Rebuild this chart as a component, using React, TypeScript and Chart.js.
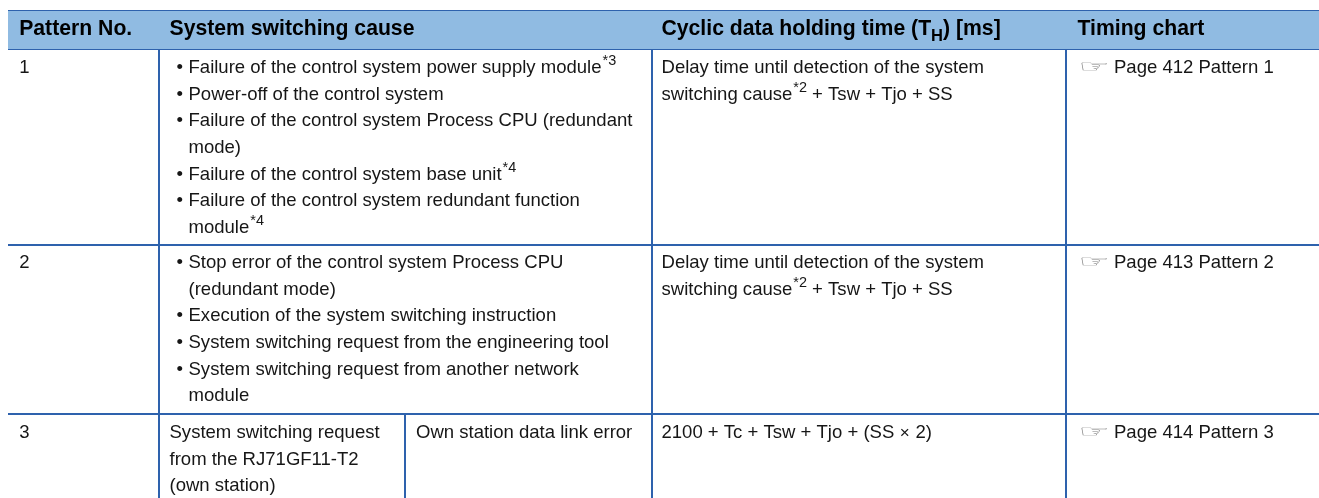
import React, { useEffect, useRef } from "react";
import { Chart, registerables } from "chart.js";

Chart.register(...registerables);

// ---- Table content ----
const headers = ["Pattern No.", "System switching cause", "Cyclic data holding time (T_{H}) [ms]", "Timing chart"];
const patternNumbers = ["1", "2", "3"];
const causesPattern1 = [
  "• Failure of the control system power supply module^{*3}",
  "• Power-off of the control system",
  "• Failure of the control system Process CPU (redundant",
  "mode)",
  "• Failure of the control system base unit^{*4}",
  "• Failure of the control system redundant function",
  "module^{*4}",
];
const causesPattern2 = [
  "• Stop error of the control system Process CPU",
  "(redundant mode)",
  "• Execution of the system switching instruction",
  "• System switching request from the engineering tool",
  "• System switching request from another network",
  "module",
];
const causesPattern3Left = ["System switching request", "from the RJ71GF11-T2", "(own station)"];
const causesPattern3Right = ["Own station data link error"];
const holdingTimePattern12 = ["Delay time until detection of the system", "switching cause^{*2} + Tsw + Tjo + SS"];
const holdingTimePattern3 = ["2100 + Tc + Tsw + Tjo + (SS ~{×} 2)"];
const timingLinks = ["Page 412 Pattern 1", "Page 413 Pattern 2", "Page 414 Pattern 3"];

// ---- Layout (in scale units, which equal page pixels) ----
const W = 1319;
const H = 498;
const LEFT = 8;
const COL = [159, 652, 1066];
const SUBCOL = 405;
const TOP = 11;
const HEAD_BOTTOM = 49;
const ROW_BOTTOMS = [245, 414];
const LINE_PITCH = 26.65;
const RULE = "#2e62ad";
const HEAD_FILL = "#90bbe2";
const TEXT = "#161616";
const FONT = '"Liberation Sans", Arial, sans-serif';
const SIZE = 18.55;
const HEAD_SIZE = 21.2;

type Seg = { t: string; kind: "n" | "sup" | "sub" | "small" };
function parse(s: string): Seg[] {
  const out: Seg[] = [];
  const re = /\^\{(.*?)\}|_\{(.*?)\}|~\{(.*?)\}/g;
  let last = 0;
  let m: RegExpExecArray | null;
  while ((m = re.exec(s))) {
    if (m.index > last) out.push({ t: s.slice(last, m.index), kind: "n" });
    if (m[1] !== undefined) out.push({ t: m[1], kind: "sup" });
    else if (m[2] !== undefined) out.push({ t: m[2], kind: "sub" });
    else out.push({ t: m[3], kind: "small" });
    last = m.index + m[0].length;
  }
  if (last < s.length) out.push({ t: s.slice(last), kind: "n" });
  return out;
}

function drawRuns(ctx: CanvasRenderingContext2D, s: string, px: number, py: number, size: number, bold: boolean) {
  let x = px;
  for (const seg of parse(s)) {
    const weight = bold ? "bold " : "";
    if (seg.kind === "small") {
      // Keeps the full-size advance, draws the glyph a little smaller and centred in it.
      ctx.font = `${weight}${size}px ${FONT}`;
      const adv = ctx.measureText(seg.t).width;
      ctx.font = `${weight}${size * 0.92}px ${FONT}`;
      const w = ctx.measureText(seg.t).width;
      ctx.fillText(seg.t, x + (adv - w) / 2, py - size * 0.01);
      x += adv;
      continue;
    }
    const sz = seg.kind === "n" ? size : size * 0.78;
    ctx.font = `${weight}${sz}px ${FONT}`;
    const dy = seg.kind === "sup" ? -size * 0.41 : seg.kind === "sub" ? size * 0.28 : 0;
    if (seg.kind === "sup") x += 1;
    ctx.fillText(seg.t, x, py + dy);
    x += ctx.measureText(seg.t).width;
  }
}

const tablePlugin = {
  id: "tableText",
  afterDatasetsDraw(chart: any) {
    const { ctx, scales } = chart;
    const X = (v: number) => scales.x.getPixelForValue(v);
    const Y = (v: number) => scales.y.getPixelForValue(v);
    ctx.save();
    ctx.fillStyle = TEXT;
    ctx.textBaseline = "alphabetic";
    ctx.textAlign = "left";

    const block = (lines: string[], x: number, y: number, bulletX?: number) => {
      lines.forEach((line, i) => {
        const py = Y(y + i * LINE_PITCH);
        if (bulletX !== undefined && line.startsWith("• ")) {
          ctx.font = `${SIZE}px ${FONT}`;
          ctx.fillText("•", X(bulletX), py);
          drawRuns(ctx, line.slice(2), X(x), py, SIZE, false);
        } else {
          drawRuns(ctx, line, X(x), py, SIZE, false);
        }
      });
    };

    const headX = [19.2, 169.5, 661.5, 1077.5];
    ctx.fillStyle = "#000000";
    headers.forEach((h, i) => drawRuns(ctx, h, X(headX[i]), Y(35.2), HEAD_SIZE, true));
    ctx.fillStyle = TEXT;

    const rowBase = [73, 268, 438];
    patternNumbers.forEach((n, i) => block([n], 19.2, rowBase[i]));
    block(causesPattern1, 188.5, rowBase[0], 176.5);
    block(causesPattern2, 188.5, rowBase[1], 176.5);
    block(causesPattern3Left, 169.5, rowBase[2]);
    block(causesPattern3Right, 416, rowBase[2]);
    block(holdingTimePattern12, 661.5, rowBase[0]);
    block(holdingTimePattern12, 661.5, rowBase[1]);
    block(holdingTimePattern3, 661.5, rowBase[2]);
    timingLinks.forEach((t, i) => {
      ctx.save();
      ctx.translate(X(1078.5), Y(rowBase[i] - 1));
      ctx.scale(1.75, 0.85);
      ctx.fillStyle = "#808080";
      ctx.font = `20px "DejaVu Sans"`;
      ctx.fillText("☞", 0, 0);
      ctx.restore();
      ctx.fillStyle = TEXT;
      block([t], 1114, rowBase[i]);
    });
    ctx.restore();
  },
};

const rule = (x0: number, y0: number, x1: number, y1: number) => ({
  type: "line" as const,
  data: [{ x: x0, y: y0 }, { x: x1, y: y1 }],
  borderColor: RULE,
  borderWidth: 2,
  pointRadius: 0,
  fill: false,
});

export default function App() {
  const ref = useRef<HTMLCanvasElement>(null);
  useEffect(() => {
    document.body.style.margin = "0";
    const chart = new Chart(ref.current!, {
      type: "line",
      data: {
        datasets: [
          {
            data: [{ x: LEFT, y: TOP }, { x: W, y: TOP }],
            borderWidth: 0,
            pointRadius: 0,
            backgroundColor: HEAD_FILL,
            fill: { value: HEAD_BOTTOM },
          } as any,
          rule(LEFT, TOP, W, TOP),
          rule(LEFT, HEAD_BOTTOM, W, HEAD_BOTTOM),
          ...ROW_BOTTOMS.map((y) => rule(LEFT, y, W, y)),
          ...COL.map((x) => rule(x, TOP, x, H)),
          rule(SUBCOL, ROW_BOTTOMS[1], SUBCOL, H),
        ],
      },
      options: {
        animation: false,
        responsive: false,
        maintainAspectRatio: false,
        layout: { padding: 0 },
        plugins: { legend: { display: false }, tooltip: { enabled: false }, title: { display: false } },
        scales: {
          x: { type: "linear", min: 0, max: W, display: false },
          y: { type: "linear", min: 0, max: H, reverse: true, display: false },
        },
      },
      plugins: [tablePlugin],
    });
    return () => chart.destroy();
  }, []);
  return <canvas ref={ref} width={W} height={H} style={{ display: "block", width: W, height: H }} />;
}
